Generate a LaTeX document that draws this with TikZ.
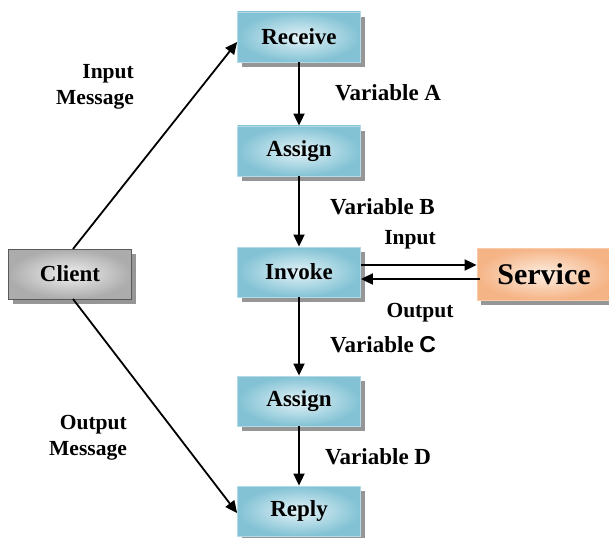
\documentclass[tikz,border=0pt]{standalone}
\usepackage{fontspec}
\setmainfont{Liberation Serif}
\newfontfamily\arialfont{Liberation Sans}
\usetikzlibrary{arrows.meta,shadows,positioning,calc}

\definecolor{stepedge}{RGB}{130,194,212}
\definecolor{stepcore}{RGB}{228,243,248}
\definecolor{svcedge}{RGB}{245,180,134}
\definecolor{svccore}{RGB}{253,238,226}
\definecolor{shadowgray}{RGB}{150,150,150}

\tikzset{
  x=1pt, y=-1pt,
  boxshadow/.style={drop shadow={shadow xshift=4pt, shadow yshift=-5pt, fill=shadowgray, opacity=1}},
  stepbox/.style={boxshadow, minimum width=123pt, minimum height=50pt, inner sep=0pt,
    inner color=stepcore, outer color=stepedge, draw=stepedge!60!white, line width=0.8pt,
    font=\fontsize{23}{25}\selectfont\bfseries},
  clientbox/.style={stepbox, inner color=gray!12, outer color=gray!65, draw=gray!70!black},
  servicebox/.style={stepbox, minimum width=134pt, minimum height=52pt,
    inner color=svccore, outer color=svcedge, draw=svcedge!70!white,
    font=\fontsize{30}{32}\selectfont\bfseries},
  flow/.style={line width=1.8pt, -{Triangle[length=12pt,width=11pt]}},
  lbl/.style={font=\fontsize{23}{26}\selectfont\bfseries, inner sep=0pt},
  smalllbl/.style={font=\fontsize{21.5}{26}\selectfont\bfseries, inner sep=0pt},
}

\begin{document}
\begin{tikzpicture}
\useasboundingbox (0,0) rectangle (609,537);

% process steps
\node[stepbox] (rec) at (299,37) {Receive};
\node[stepbox] (as1) at (299,151) {Assign};
\node[stepbox] (inv) at (299,272) {Invoke};
\node[stepbox] (as2) at (299,401) {Assign};
\node[stepbox] (rep) at (299,511) {Reply};

% partners
\node[clientbox] (cli) at (70,274) {Client};
\node[servicebox] (svc) at (544,274) {Service};

% message flow between client and process
\coordinate (cliTop) at (73,249);
\coordinate (cliBot) at (73,299);
\draw[flow] (cliTop) -- ([yshift=-5pt]rec.west);
\draw[flow] (cliBot) -- ([yshift=-2pt]rep.west);

% variable hand-over along the process
\draw[flow] (rec.south) -- (as1.north);
\draw[flow] (as1.south) -- (inv.north);
\draw[flow] (inv.south) -- (as2.north);
\draw[flow] (as2.south) -- (rep.north);

% invoke <-> service
\coordinate (callOut) at ([yshift=7pt]inv.east);
\coordinate (callIn) at ([yshift=-7pt]inv.east);
\draw[flow] (callOut) -- (callOut -| svc.west);
\draw[flow] ([xshift=3pt]callIn -| svc.west) -- (callIn);

% labels
\node[smalllbl, align=right, anchor=east] (lin) at (134,87) {Input\\Message};
\node[smalllbl, align=right, anchor=east] (lout) at (127,438) {Output\\Message};
\node[lbl, anchor=west] (va) at (335,93) {Variable A};
\node[lbl, anchor=west] (vb) at (330,207) {Variable B};
\node[lbl, anchor=west] (vc) at (330,345) {Variable {\arialfont C}};
\node[lbl, anchor=west] (vd) at (325,457) {Variable D};
\node[smalllbl] (lsin) at (410,240) {Input};
\node[smalllbl] (lsout) at (420,313) {Output};
\end{tikzpicture}
\end{document}
